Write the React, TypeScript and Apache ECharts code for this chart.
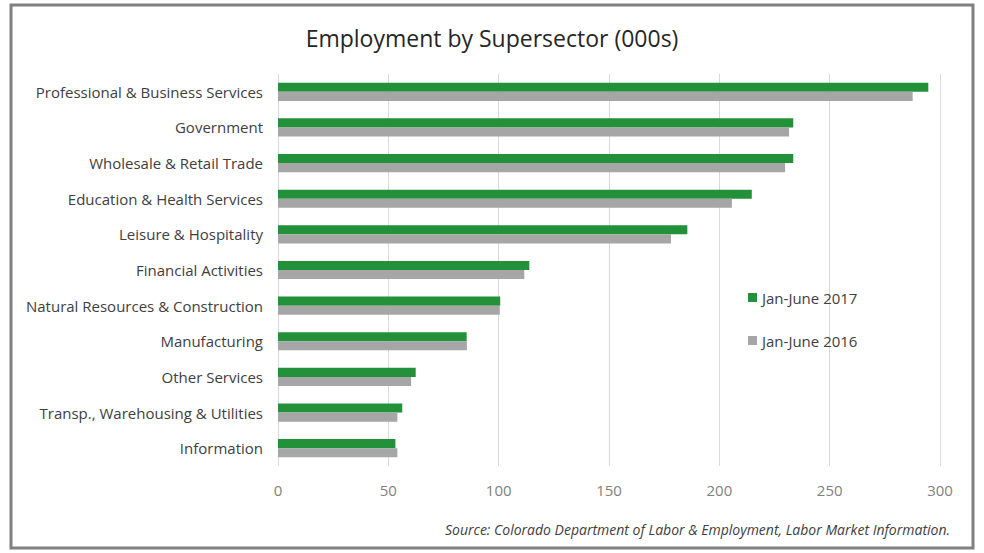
import React, { useEffect, useRef } from "react";
import * as echarts from "echarts";

const categories = [
  "Professional & Business Services",
  "Government",
  "Wholesale & Retail Trade",
  "Education & Health Services",
  "Leisure & Hospitality",
  "Financial Activities",
  "Natural Resources & Construction",
  "Manufacturing",
  "Other Services",
  "Transp., Warehousing & Utilities",
  "Information",
];
const values2017 = [294.7, 233.5, 233.5, 214.7, 185.5, 113.9, 100.7, 85.5, 62.4, 56.3, 53.2];
const values2016 = [287.6, 231.6, 229.8, 205.7, 178.1, 111.6, 100.5, 85.6, 60.3, 54.1, 54.1];
const seriesNames = ["Jan-June 2017", "Jan-June 2016"];
const xTicks = [0, 50, 100, 150, 200, 250, 300];

const FONT = "'Open Sans', 'Noto Sans', sans-serif";

export default function App() {
  const ref = useRef<HTMLDivElement>(null);
  useEffect(() => {
    if (!ref.current) return;
    const chart = echarts.init(ref.current, null, { renderer: "svg" });
    chart.setOption({
      animation: false,
      backgroundColor: "#ffffff",
      title: {
        text: "Employment by Supersector (000s)",
        left: "center",
        top: 21,
        textStyle: { fontFamily: FONT, fontSize: 23, fontWeight: "normal", color: "#262626" },
      },
      legend: {
        orient: "vertical",
        left: 743,
        top: 285,
        itemGap: 28,
        itemWidth: 9,
        itemHeight: 9,
        icon: "rect",
        data: seriesNames,
        textStyle: { fontFamily: FONT, fontSize: 15, color: "#404040" },
      },
      grid: { left: 278, right: 44, top: 74, bottom: 87, containLabel: false },
      xAxis: {
        type: "value",
        min: xTicks[0],
        max: xTicks[xTicks.length - 1],
        interval: 50,
        axisLine: { show: false },
        axisTick: { show: false },
        splitLine: { lineStyle: { color: "#d9d9d9", width: 1 } },
        axisLabel: { fontFamily: FONT, fontSize: 15, color: "#7f7f7f", margin: 16 },
      },
      yAxis: {
        type: "category",
        inverse: true,
        data: categories,
        axisLine: { show: false },
        axisTick: { show: false },
        axisLabel: { fontFamily: FONT, fontSize: 15, color: "#404040", margin: 15 },
      },
      series: [
        {
          name: seriesNames[0],
          type: "bar",
          data: values2017,
          itemStyle: { color: "#23903a" },
          barGap: "0%",
          barCategoryGap: "49%",
        },
        {
          name: seriesNames[1],
          type: "bar",
          data: values2016,
          itemStyle: { color: "#a6a6a6" },
          barGap: "0%",
          barCategoryGap: "49%",
        },
      ],
      graphic: [
        {
          type: "rect",
          shape: { x: 11, y: 5, width: 962, height: 543 },
          style: { fill: "none", stroke: "#808080", lineWidth: 3 },
          silent: true,
        },
        {
          type: "text",
          right: 34,
          top: 522,
          style: {
            text: "Source: Colorado Department of Labor & Employment, Labor Market Information.",
            font: `italic 14px ${FONT}`,
            fill: "#404040",
          },
        },
      ],
    });
    return () => chart.dispose();
  }, []);
  return (
    <div
      ref={ref}
      style={{ position: "fixed", left: 0, top: 0, width: 984, height: 553 }}
    />
  );
}
